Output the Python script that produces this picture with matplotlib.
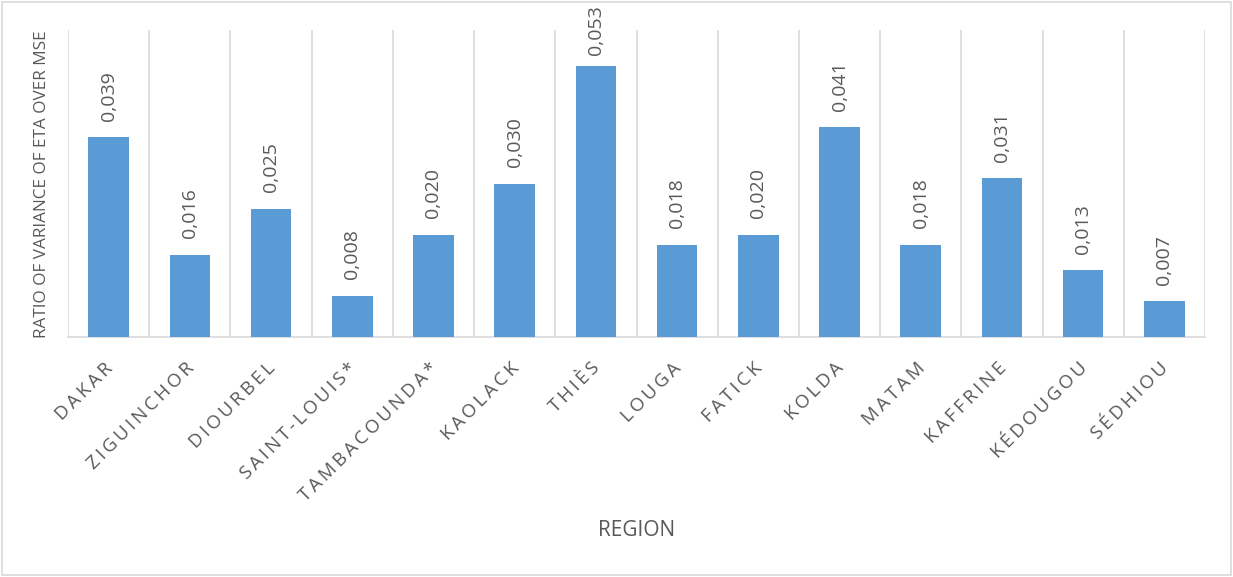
import matplotlib
matplotlib.use("Agg")
import matplotlib.pyplot as plt
from matplotlib.patches import Rectangle
from matplotlib.transforms import ScaledTranslation

regions = ["DAKAR", "ZIGUINCHOR", "DIOURBEL", "SAINT-LOUIS*", "TAMBACOUNDA*", "KAOLACK",
           "THIÈS", "LOUGA", "FATICK", "KOLDA", "MATAM", "KAFFRINE", "KÉDOUGOU", "SÉDHIOU"]
values = [0.039, 0.016, 0.025, 0.008, 0.020, 0.030, 0.053, 0.018, 0.020, 0.041, 0.018, 0.031, 0.013, 0.007]
y_label = "RATIO OF VARIANCE OF ETA OVER MSE"
x_label = "REGION"

TXT = "#595959"
GRID = "#D9D9D9"
BAR = "#5B9BD5"
FONT = ["Open Sans", "DejaVu Sans"]

fig = plt.figure(figsize=(12.33, 5.77), dpi=100)
fig.patches.append(Rectangle((0.002, 0.003), 0.996, 0.994, transform=fig.transFigure,
                             fill=False, edgecolor=GRID, linewidth=1.2))
ax = fig.add_axes([68/1233, 1-337/577, (1205-68)/1233, (337-30)/577])
n = len(regions)
x = list(range(n))
ax.bar(x, values, width=0.5, color=BAR, zorder=3)
ax.set_xlim(-0.5, n-0.5)
ax.set_ylim(0, 0.06)
for k in range(n+1):
    ax.axvline(k-0.5, color=GRID, linewidth=1.2, zorder=1)
for s in ["top", "right", "left"]:
    ax.spines[s].set_visible(False)
ax.spines["bottom"].set_color(GRID)
ax.spines["bottom"].set_linewidth(1.2)
ax.set_yticks([])
ax.tick_params(axis="x", length=0, pad=16)
spaced = ["\u2009".join(list(r)) for r in regions]
ax.set_xticks(x)
ax.set_xticklabels(spaced, rotation=45, ha="right", va="top", rotation_mode="anchor",
                   fontsize=13.5, color=TXT, family=FONT)
shift = ScaledTranslation(-5/100, 0, fig.dpi_scale_trans)
for lab in ax.get_xticklabels():
    lab.set_transform(lab.get_transform() + shift)
for xi, v in zip(x, values):
    off = 12 if v < 0.05 else 8
    ax.annotate(f"{v:.3f}".replace(".", ","), (xi, v), xytext=(0, off), textcoords="offset points",
                rotation=90, ha="center", va="bottom", fontsize=14, color=TXT, family=FONT)
fig.text(42/1233, 1-184/577, y_label, rotation=90, ha="center", va="center",
         fontsize=12.3, color=TXT, family=FONT)
fig.text(637/1233, 1-530/577, x_label, ha="center", va="center", fontsize=15, color=TXT, family=FONT)
fig.savefig("out.png", dpi=100)
